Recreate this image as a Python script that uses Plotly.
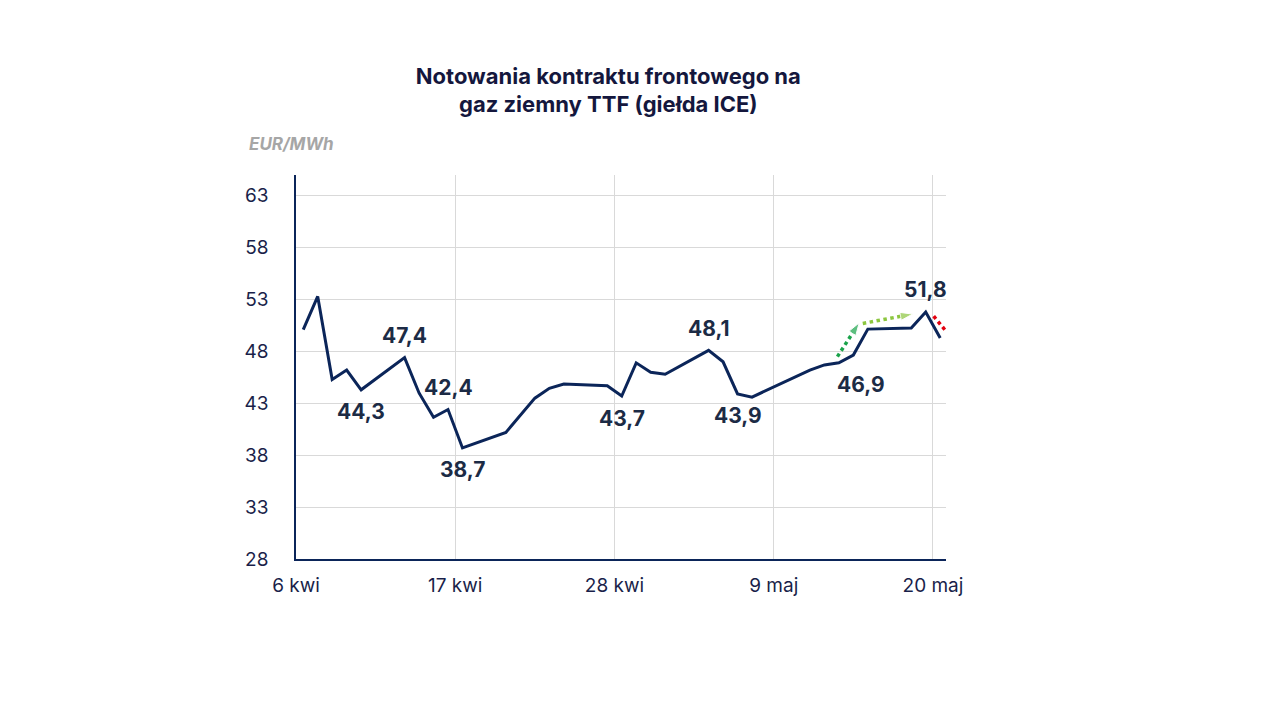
import plotly.graph_objects as go
import datetime as dt

base = dt.datetime(2025, 4, 6, 12)
day_offsets = [0,1,2,3,4,7,8,9,10,11,14,15,16,17,18,21,22,23,24,25,28,29,30,31,35,36,37,38,39,42,43,44]
values = [50.1,53.3,45.3,46.2,44.3,47.4,44.0,41.65,42.4,38.7,40.2,41.9,43.5,44.45,44.85,44.7,43.7,46.9,46.0,45.8,48.1,47.0,43.9,43.6,46.2,46.7,46.9,47.65,50.15,50.25,51.8,49.3]
dates = [base + dt.timedelta(days=d) for d in day_offsets]

label_idx = [4,5,8,9,16,20,22,26,30]
label_pos = ["below","above","above","below","below","above","below","belowright","above"]
tick_days = [0,11,22,33,44]
tick_text = ["6 kwi","17 kwi","28 kwi","9 maj","20 maj"]

arrows = [  # (start_day, start_val, end_day, end_val, colour)
    (37.4,47.5,38.9,50.75,"#1aa34a"),
    (39.15,50.7,42.6,51.6,"#8cc63f"),
    (44.05,51.4,45.4,49.1,"#e3000f"),
]
def D(x): return dt.datetime(2025,4,6) + dt.timedelta(days=x)

FONT = "Inter"
fig = go.Figure()
fig.add_trace(go.Scatter(x=dates, y=values, mode="lines", line=dict(color="#0b2559", width=3), hoverinfo="skip"))
for sx, sy, ex, ey, c in arrows:
    fig.add_trace(go.Scatter(x=[D(sx), D(ex)], y=[sy, ey], mode="lines+markers", cliponaxis=False,
        line=dict(color=c, width=3.5, dash="dot"),
        marker=dict(symbol=["circle", "arrow"], size=[0, 13], color=c, angleref="previous"),
        hoverinfo="skip"))

for i, p in zip(label_idx, label_pos):
    yshift = 22 if p == "above" else -22
    xshift = 22 if p == "belowright" else 0
    fig.add_annotation(x=dates[i], y=values[i], text="<b>%s</b>" % f"{values[i]:.1f}".replace(".", ","),
        showarrow=False, yshift=yshift, xshift=xshift,
        font=dict(size=21, color="#1c2b45", family=FONT))

fig.add_annotation(xref="paper", yref="paper", x=-0.075, y=1.05, xanchor="left", yanchor="bottom",
    text="<b><i>EUR/MWh</i></b>", showarrow=False, font=dict(size=17, color="#a6a6a6", family=FONT))

fig.update_layout(
    width=1280, height=720, showlegend=False,
    paper_bgcolor="white", plot_bgcolor="white",
    margin=dict(l=288, r=342, t=167, b=169),
    title=dict(text="<b>Notowania kontraktu frontowego na<br>gaz ziemny TTF (giełda ICE)</b>",
        x=0.469, xanchor="center", y=0.895, yanchor="middle",
        font=dict(size=22, color="#14173d", family=FONT)),
    font=dict(family=FONT, color="#1a1f4a"),
)
fig.update_xaxes(range=[D(0), D(44.9)], tickvals=[D(d) for d in tick_days], ticktext=tick_text,
    showgrid=True, gridcolor="#d9d9d9", gridwidth=1, showline=True, linecolor="#0b2559", linewidth=1.5,
    tickfont=dict(size=19), ticks="", ticklabelstandoff=8)
fig.update_yaxes(range=[28, 65], tickvals=list(range(28, 64, 5)), showgrid=True, gridcolor="#d9d9d9",
    showline=True, linecolor="#0b2559", linewidth=1.5, zeroline=False, tickfont=dict(size=19), ticks="",
    ticklabelstandoff=22)
fig.write_html("out.html")
